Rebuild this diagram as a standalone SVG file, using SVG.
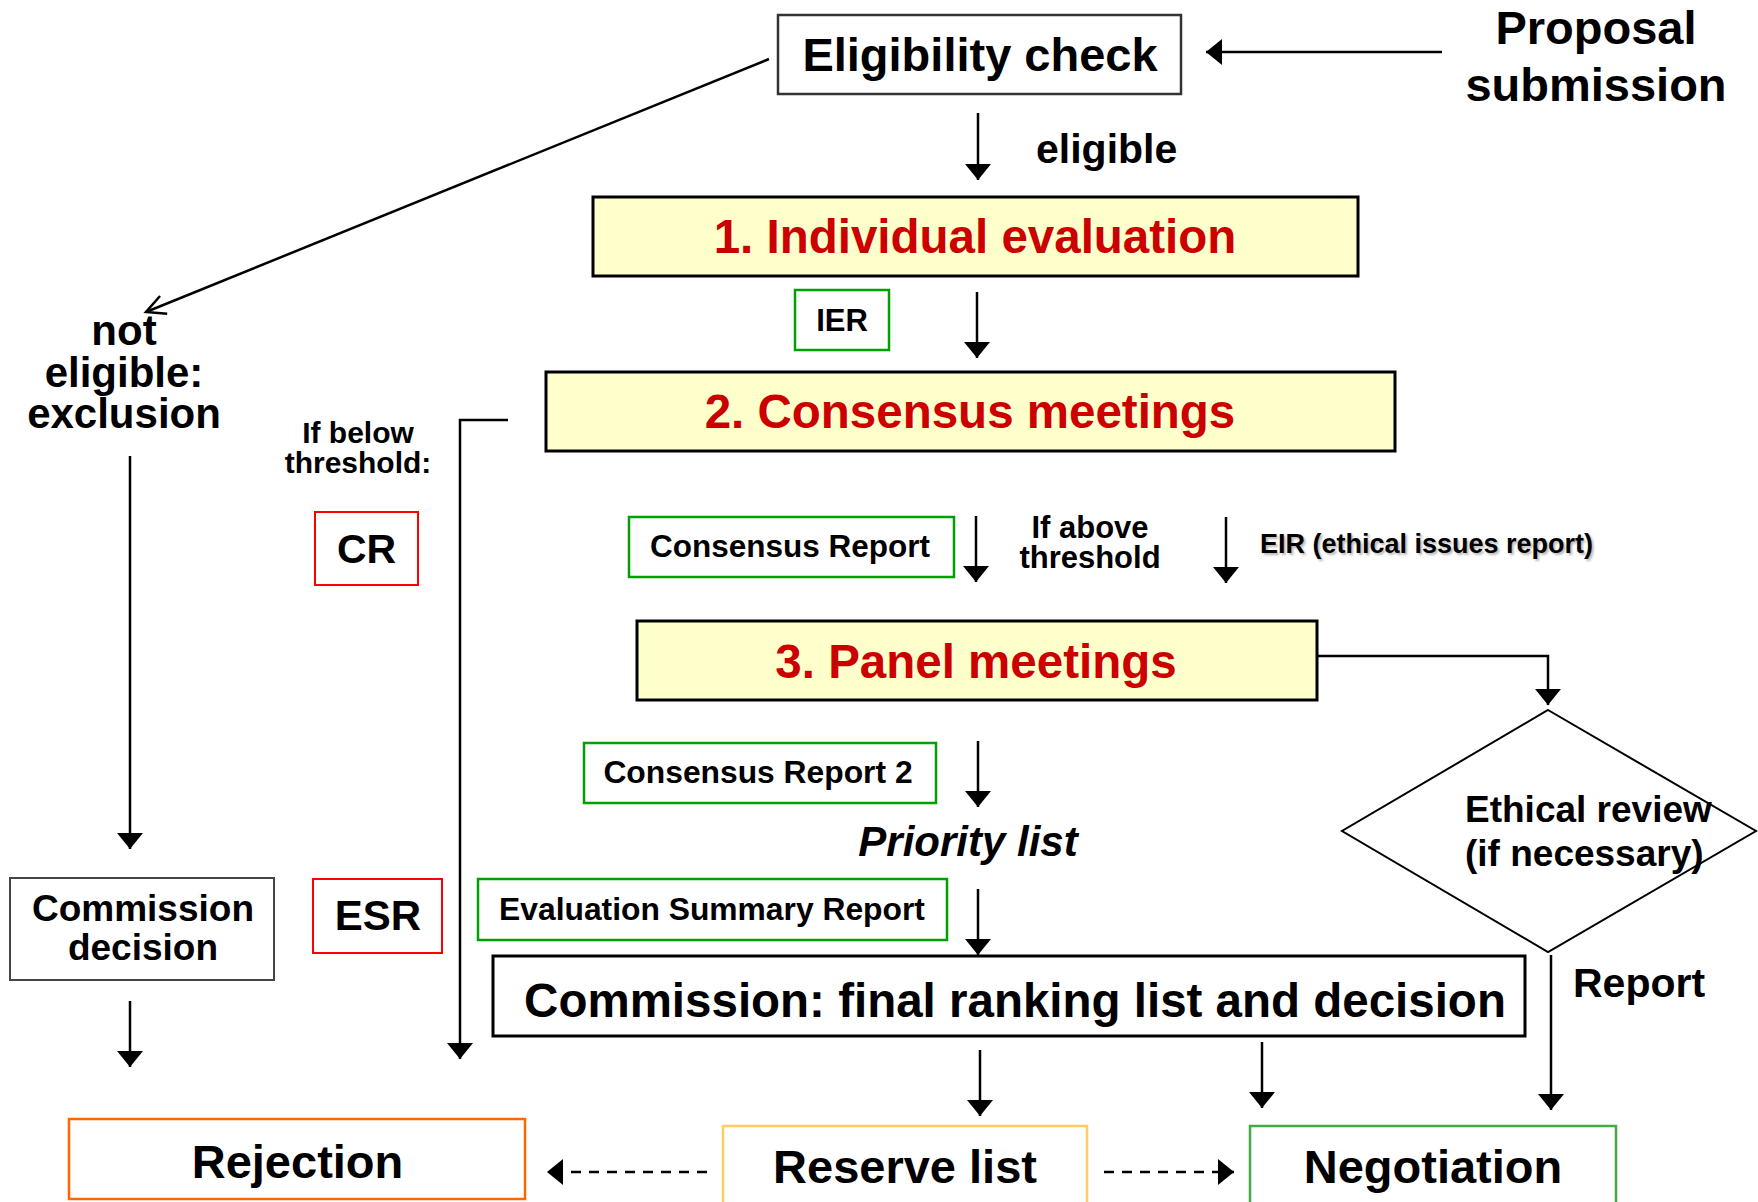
<svg xmlns="http://www.w3.org/2000/svg" width="1758" height="1202" viewBox="0 0 1758 1202">
  <style>
    text { font-family: "Liberation Sans", Arial, sans-serif; font-weight: bold; fill: #000; }
    .mid { text-anchor: middle; }
    .stage { fill: #FFFFCC; stroke: #000; stroke-width: 3; }
    .stage-label { fill: #CC0000; font-size: 47.5px; text-anchor: middle; }
    .doc-green { fill: #fff; stroke: #00A000; stroke-width: 2.5; }
    .doc-red { fill: #fff; stroke: #FF0000; stroke-width: 2; }
    .plain { fill: #fff; stroke: #333; stroke-width: 2.5; }
    .conn { fill: none; stroke: #000; stroke-width: 2.5; }
    .dash { stroke-dasharray: 10 8; }
    .shadow { fill: #888; opacity: 0.6; }
  </style>
  <defs>
    <marker id="head" markerUnits="userSpaceOnUse" viewBox="0 0 16 26" markerWidth="16" markerHeight="26" refX="16" refY="13" orient="auto">
      <path d="M0,0 L16,13 L0,26 z" fill="#000"/>
    </marker>
    <marker id="open" markerUnits="userSpaceOnUse" viewBox="-22 -12 24 24" markerWidth="24" markerHeight="24" refX="0" refY="0" orient="auto" overflow="visible">
      <path d="M-19,-9.5 L0,0 L-19,9.5" fill="none" stroke="#000" stroke-width="2.5"/>
    </marker>
    <filter id="soft" x="-5%" y="-20%" width="110%" height="140%">
      <feGaussianBlur stdDeviation="1.2"/>
    </filter>
  </defs>

  <!-- connectors -->
  <g id="connectors">
    <line class="conn" x1="1442" y1="52" x2="1206" y2="52" marker-end="url(#head)"/>
    <line class="conn" x1="978" y1="113" x2="978" y2="180" marker-end="url(#head)"/>
    <line class="conn" x1="769" y1="59" x2="146" y2="312" marker-end="url(#open)"/>
    <line class="conn" x1="977" y1="292" x2="977" y2="358" marker-end="url(#head)"/>
    <path class="conn" d="M508,420 H460 V1059" marker-end="url(#head)"/>
    <line class="conn" x1="130" y1="456" x2="130" y2="849" marker-end="url(#head)"/>
    <line class="conn" x1="130" y1="1001" x2="130" y2="1067" marker-end="url(#head)"/>
    <line class="conn" x1="976" y1="516" x2="976" y2="582" marker-end="url(#head)"/>
    <line class="conn" x1="1226" y1="517" x2="1226" y2="583" marker-end="url(#head)"/>
    <path class="conn" d="M1317,656 H1548 V705" marker-end="url(#head)"/>
    <line class="conn" x1="978" y1="741" x2="978" y2="807" marker-end="url(#head)"/>
    <line class="conn" x1="978" y1="889" x2="978" y2="955" marker-end="url(#head)"/>
    <line class="conn" x1="1551" y1="955" x2="1551" y2="1110" marker-end="url(#head)"/>
    <line class="conn" x1="980" y1="1050" x2="980" y2="1116" marker-end="url(#head)"/>
    <line class="conn" x1="1262" y1="1042" x2="1262" y2="1108" marker-end="url(#head)"/>
    <line class="conn dash" x1="707" y1="1172" x2="547" y2="1172" marker-end="url(#head)"/>
    <line class="conn dash" x1="1104" y1="1172" x2="1234" y2="1172" marker-end="url(#head)"/>
  </g>

  <!-- free labels on the connectors -->
  <g id="labels">
    <text x="1596" y="44" class="mid" font-size="47">Proposal</text>
    <text x="1596" y="101" class="mid" font-size="47">submission</text>
    <text x="1036" y="163" font-size="41">eligible</text>
    <text x="124" y="345" class="mid" font-size="42">not</text>
    <text x="124" y="387" class="mid" font-size="42">eligible:</text>
    <text x="124" y="428" class="mid" font-size="42">exclusion</text>
    <text x="358" y="443" class="mid" font-size="30">If below</text>
    <text x="358" y="473" class="mid" font-size="30">threshold:</text>
    <text x="1090" y="538" class="mid" font-size="31">If above</text>
    <text x="1090" y="568" class="mid" font-size="31">threshold</text>
    <text x="1262" y="555" font-size="27" class="shadow" filter="url(#soft)">EIR (ethical issues report)</text>
    <text x="1260" y="553" font-size="27">EIR (ethical issues report)</text>
    <text x="968" y="856" class="mid" font-size="42" font-style="italic">Priority list</text>
    <text x="1573" y="997" font-size="41">Report</text>
  </g>

  <g id="eligibility-check">
    <rect x="778" y="15" width="403" height="79" class="plain"/>
    <text x="980" y="71" class="mid" font-size="47">Eligibility check</text>
  </g>

  <g id="individual-evaluation">
    <rect x="593" y="197" width="765" height="79" class="stage"/>
    <text x="975" y="253" class="stage-label">1. Individual evaluation</text>
  </g>

  <g id="ier">
    <rect x="795" y="290" width="94" height="60" class="doc-green"/>
    <text x="842" y="331" class="mid" font-size="31">IER</text>
  </g>

  <g id="consensus-meetings">
    <rect x="546" y="372" width="849" height="79" class="stage"/>
    <text x="970" y="428" class="stage-label">2. Consensus meetings</text>
  </g>

  <g id="cr">
    <rect x="315" y="512" width="103" height="73" class="doc-red"/>
    <text x="366.5" y="563" class="mid" font-size="41">CR</text>
  </g>

  <g id="consensus-report">
    <rect x="629" y="517" width="325" height="60" class="doc-green"/>
    <text x="790" y="557" class="mid" font-size="31.5">Consensus Report</text>
  </g>

  <g id="panel-meetings">
    <rect x="637" y="621" width="680" height="79" class="stage"/>
    <text x="976" y="678" class="stage-label">3. Panel meetings</text>
  </g>

  <g id="ethical-review">
    <polygon points="1548,710 1756,831 1548,952 1342,831" fill="#fff" stroke="#000" stroke-width="2"/>
    <text x="1465" y="822" font-size="37">Ethical review</text>
    <text x="1465" y="866" font-size="37">(if necessary)</text>
  </g>

  <g id="consensus-report-2">
    <rect x="584" y="743" width="352" height="60" class="doc-green"/>
    <text x="758" y="783" class="mid" font-size="31.8">Consensus Report 2</text>
  </g>

  <g id="commission-decision">
    <rect x="10" y="878" width="264" height="102" fill="#fff" stroke="#444" stroke-width="2"/>
    <text x="143" y="921" class="mid" font-size="37">Commission</text>
    <text x="143" y="960" class="mid" font-size="37">decision</text>
  </g>

  <g id="esr">
    <rect x="313" y="879" width="129" height="74" class="doc-red"/>
    <text x="378" y="930" class="mid" font-size="42">ESR</text>
  </g>

  <g id="evaluation-summary-report">
    <rect x="478" y="879" width="469" height="61" class="doc-green"/>
    <text x="712" y="920" class="mid" font-size="31.8">Evaluation Summary Report</text>
  </g>

  <g id="final-ranking">
    <rect x="493" y="956" width="1032" height="80" fill="#fff" stroke="#000" stroke-width="3"/>
    <text x="1015" y="1017" class="mid" font-size="47.5">Commission: final ranking list and decision</text>
  </g>

  <g id="rejection">
    <rect x="69" y="1119" width="456" height="80" fill="#fff" stroke="#FF6600" stroke-width="2.5"/>
    <text x="297.5" y="1178" class="mid" font-size="47">Rejection</text>
  </g>

  <g id="reserve-list">
    <rect x="723" y="1126" width="364" height="90" fill="#fff" stroke="#FFCC66" stroke-width="2.5"/>
    <text x="905" y="1183" class="mid" font-size="47">Reserve list</text>
  </g>

  <g id="negotiation">
    <rect x="1250" y="1126" width="366" height="90" fill="#fff" stroke="#44AA44" stroke-width="2.5"/>
    <text x="1433" y="1183" class="mid" font-size="47">Negotiation</text>
  </g>
</svg>
